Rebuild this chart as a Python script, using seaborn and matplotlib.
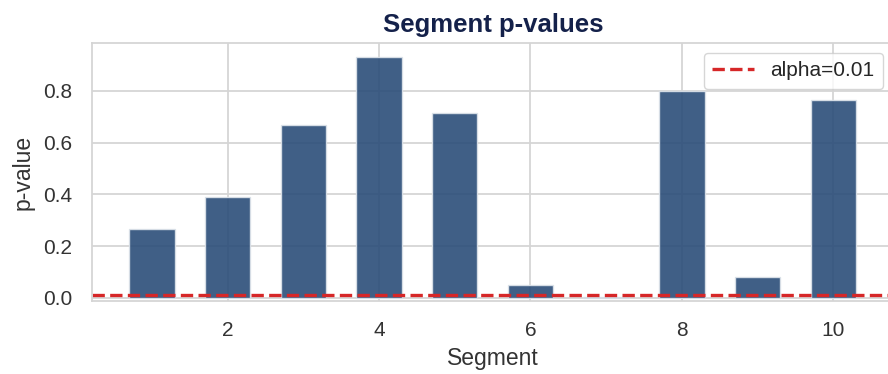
import matplotlib
matplotlib.use("Agg")
import matplotlib.pyplot as plt
import seaborn as sns
import pandas as pd

segments = [1, 2, 3, 4, 5, 6, 7, 8, 9, 10]
p_values = [0.267, 0.39, 0.669, 0.931, 0.715, 0.049, 0.002, 0.80, 0.081, 0.765]
alpha_level = 0.01

sns.set_theme(style="whitegrid")
plt.rcParams['font.family'] = ['Liberation Sans', 'DejaVu Sans']

df = pd.DataFrame({"Segment": segments, "p-value": p_values})

fig = plt.figure(figsize=(8.88, 3.74), dpi=100)
ax = fig.add_axes([0.1036, 0.195, 0.92, 0.69])

sns.barplot(data=df, x="Segment", y="p-value", native_scale=True, width=0.6,
            color="#2b4d79", saturation=1, alpha=0.9, edgecolor="#dde3ea",
            linewidth=1.0, ax=ax)
ax.axhline(alpha_level, color="#d62728", linestyle="--", linewidth=2.4,
           label=f"alpha={alpha_level}")

ax.set_xlim(0.21, 11.0)
ax.set_ylim(-0.012, 0.985)
ax.set_xticks([2, 4, 6, 8, 10])
ax.set_yticks([0.0, 0.2, 0.4, 0.6, 0.8])
ax.tick_params(axis="x", labelsize=15, colors="#333333", pad=8)
ax.tick_params(axis="y", labelsize=15, colors="#333333", pad=8)
ax.set_xlabel("Segment", fontsize=16.5, color="#333333")
ax.xaxis.set_label_coords(0.491, -0.178)
ax.set_ylabel("p-value", fontsize=16.5, color="#333333", labelpad=6)
ax.set_title("Segment p-values", fontsize=18.5, fontweight="bold", color="#14214a",
             pad=8, x=0.491)
ax.grid(True, color="#d5d5d5", linewidth=1.3)
for s in ax.spines.values():
    s.set_color("#d5d5d5")
    s.set_linewidth(1.3)
ax.legend(loc="upper right", bbox_to_anchor=(883 / 888, 1 - 53 / 374),
          bbox_transform=fig.transFigure, fontsize=15, frameon=True,
          borderaxespad=0.0, handlelength=2.0)

fig.savefig("out.png", dpi=100)
